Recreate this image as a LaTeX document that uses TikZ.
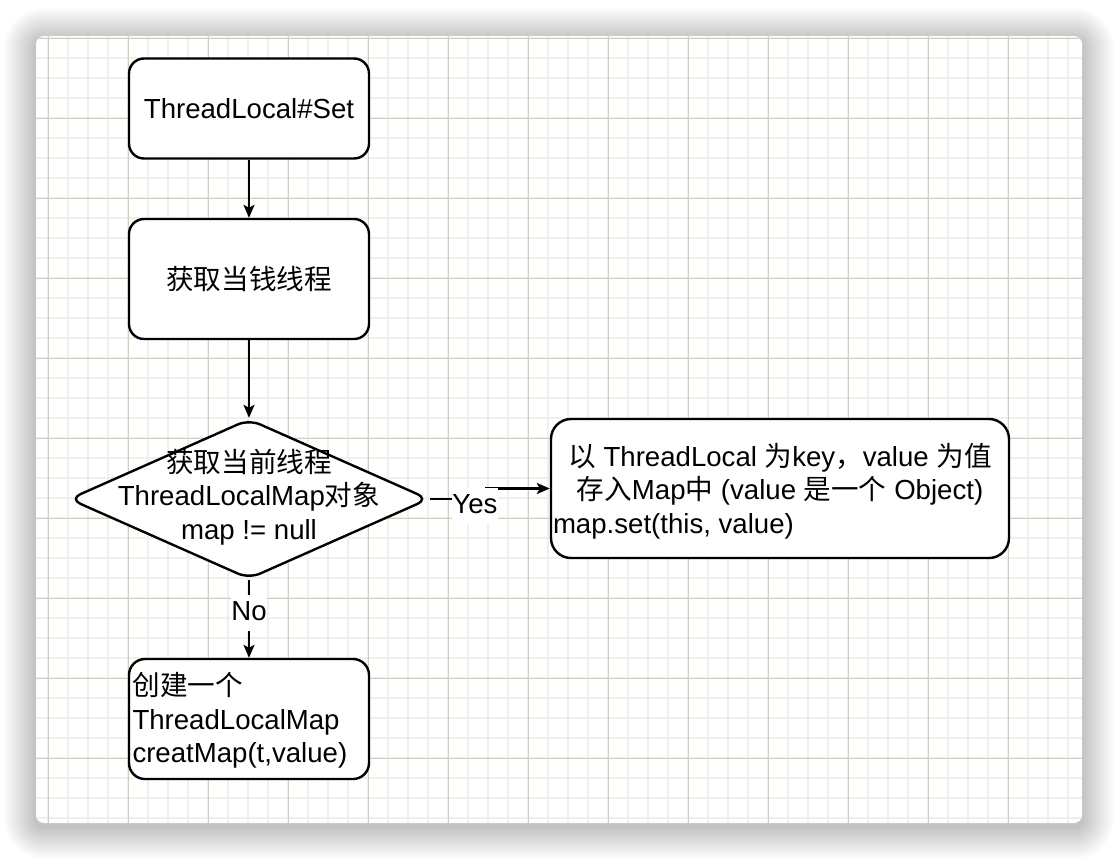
\documentclass[tikz,border=0pt]{standalone}
\usepackage{fontspec}
\setmainfont{Liberation Sans}
\newfontfamily\cjk{Noto Sans CJK SC}
\usetikzlibrary{shapes.geometric,arrows.meta}
\definecolor{minorgrid}{RGB}{240,240,232}
\definecolor{majorgrid}{RGB}{208,208,184}
\begin{document}
\begin{tikzpicture}[x=1pt,y=-1pt,
  every node/.style={font=\fontsize{27.6pt}{33.5pt}\selectfont},
  box/.style={draw=black, line width=2.4pt, fill=white, rounded corners=15pt,
    minimum width=240pt, inner sep=0pt, align=center},
  dia/.style={draw=black, line width=2.4pt, fill=white, shape=diamond,
    minimum width=360pt, minimum height=160pt, inner sep=0pt, rounded corners=12pt},
  arr/.style={draw=black, line width=2.2pt, -{Stealth[length=13pt,width=11pt,inset=3pt]}},
  lbl/.style={fill=white, inner xsep=0.5pt, inner ysep=3pt, text height=22pt, text depth=8pt}]
\useasboundingbox (0,0) rectangle (1118,860);
\fill[white] (0,0) rectangle (1118,860);
% shadow
\foreach \i [evaluate=\i as \r using 8+\i*1.6, evaluate=\i as \d using \i*1.6] in {1,...,20}{
  \fill[black, opacity=0.011, rounded corners=\r pt] ({36-\d},{40-\d}) rectangle ({1082+\d},{827+\d});
}
% card
\fill[white, rounded corners=8pt] (36,36) rectangle (1082,823);
\begin{scope}
\clip[rounded corners=8pt] (36,36) rectangle (1082,823);
\foreach \x in {48,68,...,1068} \draw[minorgrid, line width=1.5pt] (\x,36) -- (\x,823);
\foreach \y in {38,58,...,818} \draw[minorgrid, line width=1.5pt] (36,\y) -- (1082,\y);
\foreach \x in {48,128,...,1008} \draw[majorgrid, line width=1pt] (\x,36) -- (\x,823);
\foreach \y in {38,118,...,758} \draw[majorgrid, line width=1pt] (36,\y) -- (1082,\y);
\end{scope}
% nodes
\node[box, minimum height=100pt] (set) at (249,108.5) {ThreadLocal\#Set};
\node[box, minimum height=120pt] (cur) at (249,279) {{\cjk 获取当钱线程}};
\node[dia] (chk) at (249,499) {};
\node[align=center, inner sep=0pt] (chkt) at ([yshift=2pt]chk.center) {{\cjk 获取当前线程}\\ThreadLocalMap{\cjk 对象}\\map != null};
\node[box, minimum width=458pt, minimum height=139pt, rounded corners=20pt] (put) at (780,488.5)
  {\rule{0pt}{28pt}{\cjk 以} ThreadLocal {\cjk 为}key{\cjk ，}value {\cjk 为值}\\{\cjk 存入}Map{\cjk 中} (value {\cjk 是一个} Object)\hspace*{12pt}\\\makebox[454pt][l]{map.set(this, value)}};
\node[box, minimum height=120pt, text width=233pt, align=left, rounded corners=16pt] (new) at (249,719)
  {\rule{0pt}{26pt}{\cjk 创建一个}\\ThreadLocalMap\\creatMap(t,value)};
% connectors
\draw[arr] (set) -- (cur);
\draw[arr] (cur) -- (chk);
\coordinate (step) at (486,499);
\draw[arr] (chk.east) -- (step) |- (put.west);
\draw[arr] (chk.south) -- (new.north);
\node[lbl, anchor=base] (yes) at (475,513) {Yes};
\node[lbl, anchor=base] (no) at (249,620) {No};
\end{tikzpicture}
\end{document}
